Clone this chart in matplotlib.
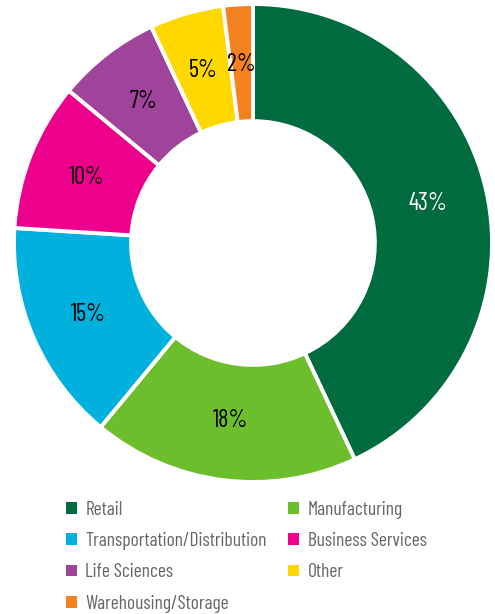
import matplotlib.pyplot as plt
from matplotlib.patches import Patch

# data
sectors = ["Retail", "Manufacturing", "Transportation/Distribution",
           "Business Services", "Life Sciences", "Other", "Warehousing/Storage"]
shares = [43, 18, 15, 10, 7, 5, 2]
colours = ["#006B3F", "#6DBE2D", "#00B1DE", "#EC008C", "#A0449B", "#FFD800", "#F58220"]
label_colours = ["white", "black", "black", "black", "black", "black", "black"]

plt.rcParams['font.family'] = ['Barlow Condensed', 'DejaVu Sans']

fig = plt.figure(figsize=(4.95, 6.14), dpi=100)
# pie axes, centre ~ (253,243) px from top, radius ~239 px
ax = fig.add_axes([14/495, 132/614, 478/495, 478/614])
wedges, texts, autotexts = ax.pie(
    shares, colors=colours, startangle=90, counterclock=False,
    autopct='%d%%', pctdistance=0.75,
    wedgeprops=dict(width=0.49, edgecolor='white', linewidth=2.8),
    textprops=dict(fontsize=17.5))
for t, c in zip(autotexts, label_colours):
    t.set_color(c)
ax.set_aspect('equal')
ax.set_xlim(-1.0, 1.0)
ax.set_ylim(-1.0, 1.0)
ax.axis('off')

# legend is filled column by column, so reorder to read row by row
order = [0, 2, 4, 6, 1, 3, 5]
handles = [Patch(facecolor=colours[i], edgecolor='none') for i in order]
labels = [sectors[i] for i in order]
leg = fig.legend(handles, labels, loc='upper left', bbox_to_anchor=(66/495, 1 - 501/614),
                 ncol=2, frameon=False, fontsize=14, handlelength=0.55, handleheight=0.55,
                 handletextpad=0.45, columnspacing=1.1, labelspacing=0.68,
                 borderpad=0, borderaxespad=0, labelcolor='#666666')

fig.savefig("out.png", dpi=100)
